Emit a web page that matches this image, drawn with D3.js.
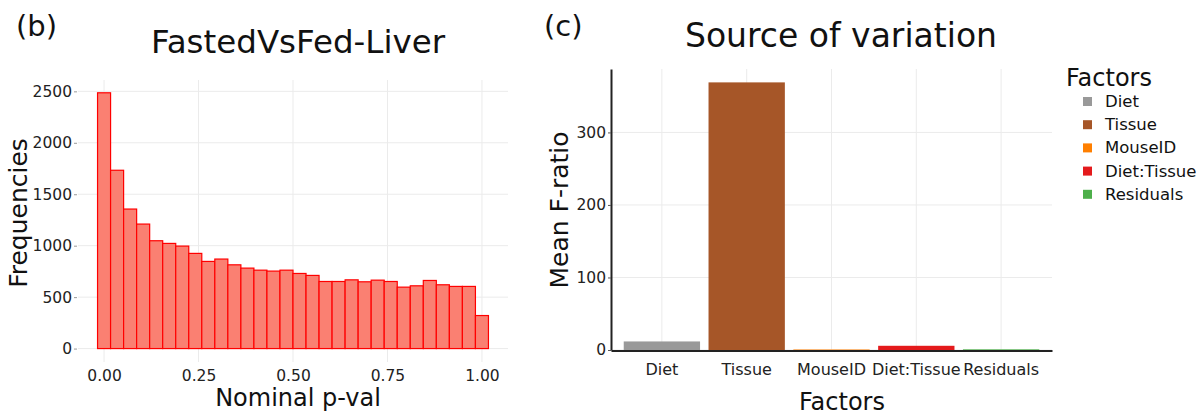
<!DOCTYPE html>
<html lang="en">
<head>
  <meta charset="UTF-8">
  <title>FastedVsFed-Liver / Source of variation</title>
  <script src="https://d3js.org/d3.v7.min.js"></script>
  <style>
    body { margin: 0; background: #fff; font-family: "DejaVu Sans", sans-serif; }
    .grid line { stroke: #ebebeb; stroke-width: 1; }
    .tick text { fill: #222; }
  </style>
</head>
<body>
  <svg id="chart" width="1204" height="415"></svg>
  <script>
    // Histogram counts (30 bins over nominal p-values, centres at i/29)
    const pCounts = [2486, 1733, 1356, 1210, 1048, 1022, 996, 925, 847, 870,
                     814, 782, 762, 753, 762, 730, 711, 652, 652, 668,
                     649, 665, 652, 597, 610, 662, 620, 604, 604, 321];
    const pTicks = [0, 0.25, 0.5, 0.75, 1];
    const freqTicks = [0, 500, 1000, 1500, 2000, 2500];

    // Source of variation
    const factors = ["Diet", "Tissue", "MouseID", "Diet:Tissue", "Residuals"];
    const fRatio = [11.8, 369, 0.7, 5.8, 0.9];
    const factorColors = ["#999999", "#A65628", "#FF7F00", "#E41A1C", "#4DAF4A"];
    const fTicks = [0, 100, 200, 300];

    const FONT = "DejaVu Sans, sans-serif";
    const svg = d3.select("#chart");

    // ---------- panel (b): histogram ----------
    const binW = 1 / (pCounts.length - 1);
    const xMin = -binW / 2, xMax = 1 + binW / 2;
    const xPad = (xMax - xMin) * 0.05;
    const yMaxB = d3.max(pCounts) * 1.05;

    const xB = d3.scaleLinear().domain([xMin - xPad, xMax + xPad]).range([78, 508]);
    const yB = d3.scaleLinear().domain([-yMaxB * 0.05, yMaxB]).range([362, 80]);

    const gB = svg.append("g");

    gB.append("g").attr("class", "grid")
      .selectAll("line").data(freqTicks).join("line")
      .attr("x1", 78).attr("x2", 508)
      .attr("y1", d => yB(d)).attr("y2", d => yB(d));
    gB.append("g").attr("class", "grid")
      .selectAll("line").data(pTicks).join("line")
      .attr("y1", 80).attr("y2", 362)
      .attr("x1", d => xB(d)).attr("x2", d => xB(d));

    gB.append("g")
      .selectAll("rect").data(pCounts).join("rect")
      .attr("x", (d, i) => xB(i * binW - binW / 2))
      .attr("width", (d, i) => xB(i * binW + binW / 2) - xB(i * binW - binW / 2))
      .attr("y", d => yB(d))
      .attr("height", d => yB(0) - yB(d))
      .attr("fill", "#FA8072")
      .attr("stroke", "#FF0000")
      .attr("stroke-width", 1.2);

    const axLB = gB.append("g").attr("transform", "translate(77,0)")
      .call(d3.axisLeft(yB).tickValues(freqTicks).tickFormat(d3.format("d")).tickSize(3).tickPadding(2))
      .attr("font-size", 15.5).attr("font-family", FONT);
    axLB.select(".domain").remove();
    axLB.selectAll(".tick line").attr("stroke", "#999");

    const axBB = gB.append("g").attr("transform", "translate(0,362)")
      .call(d3.axisBottom(xB).tickValues(pTicks).tickFormat(d3.format(".2f")).tickSize(0).tickPadding(8))
      .attr("font-size", 15.5).attr("font-family", FONT);
    axBB.select(".domain").remove();

    gB.append("text").attr("x", 298).attr("y", 53).attr("text-anchor", "middle")
      .attr("font-size", 32.5).attr("fill", "#111").text("FastedVsFed-Liver");
    gB.append("text").attr("x", 16).attr("y", 36)
      .attr("font-size", 29).attr("fill", "#111").text("(b)");
    gB.append("text").attr("transform", "translate(27,213) rotate(-90)")
      .attr("text-anchor", "middle").attr("font-size", 25).attr("fill", "#111").text("Frequencies");
    gB.append("text").attr("x", 298).attr("y", 406).attr("text-anchor", "middle")
      .attr("font-size", 24).attr("fill", "#111").text("Nominal p-val");

    // ---------- panel (c): bar chart ----------
    const xC = d3.scaleBand().domain(factors).range([611, 1052]).paddingInner(0.1).paddingOuter(0.15);
    const yMaxC = d3.max(fRatio) * 1.05;
    const yC = d3.scaleLinear().domain([0, yMaxC]).range([350, 69]);

    const gC = svg.append("g");

    gC.append("g").attr("class", "grid")
      .selectAll("line").data(fTicks).join("line")
      .attr("x1", 611).attr("x2", 1052)
      .attr("y1", d => yC(d)).attr("y2", d => yC(d));
    gC.append("g").attr("class", "grid")
      .selectAll("line").data(factors).join("line")
      .attr("y1", 69).attr("y2", 350)
      .attr("x1", d => xC(d) + xC.bandwidth() / 2).attr("x2", d => xC(d) + xC.bandwidth() / 2);

    gC.append("g")
      .selectAll("rect").data(fRatio).join("rect")
      .attr("x", (d, i) => xC(factors[i]))
      .attr("width", xC.bandwidth())
      .attr("y", d => yC(d))
      .attr("height", d => Math.max(1, yC(0) - yC(d)))
      .attr("fill", (d, i) => factorColors[i]);

    const axLC = gC.append("g").attr("transform", "translate(611,0)")
      .call(d3.axisLeft(yC).tickValues(fTicks).tickSize(3).tickPadding(2).tickSizeOuter(0))
      .attr("font-size", 15.5).attr("font-family", FONT);
    axLC.select(".domain").attr("stroke", "#222").attr("stroke-width", 2);
    axLC.selectAll(".tick line").attr("stroke", "#555");

    const axBC = gC.append("g").attr("transform", "translate(0,350.5)")
      .call(d3.axisBottom(xC).tickSize(0).tickPadding(13).tickSizeOuter(0))
      .attr("font-size", 16).attr("font-family", FONT);
    axBC.select(".domain").attr("stroke", "#222").attr("stroke-width", 2);

    gC.append("text").attr("x", 841).attr("y", 47).attr("text-anchor", "middle")
      .attr("font-size", 33).attr("fill", "#111").text("Source of variation");
    gC.append("text").attr("x", 544).attr("y", 36)
      .attr("font-size", 29).attr("fill", "#111").text("(c)");
    gC.append("text").attr("transform", "translate(568,210) rotate(-90)")
      .attr("text-anchor", "middle").attr("font-size", 25).attr("fill", "#111").text("Mean F-ratio");
    gC.append("text").attr("x", 842).attr("y", 410).attr("text-anchor", "middle")
      .attr("font-size", 24).attr("fill", "#111").text("Factors");

    // legend
    const lg = svg.append("g");
    lg.append("text").attr("x", 1066).attr("y", 86)
      .attr("font-size", 24).attr("fill", "#111").text("Factors");
    const items = lg.selectAll("g.item").data(factors).join("g")
      .attr("transform", (d, i) => `translate(1083,${101 + i * 23.2})`);
    items.append("rect").attr("x", 0).attr("y", -4).attr("width", 9).attr("height", 9)
      .attr("fill", (d, i) => factorColors[i]);
    items.append("text").attr("x", 22).attr("y", 6)
      .attr("font-size", 16.5).attr("fill", "#111").text(d => d);
  </script>
</body>
</html>
